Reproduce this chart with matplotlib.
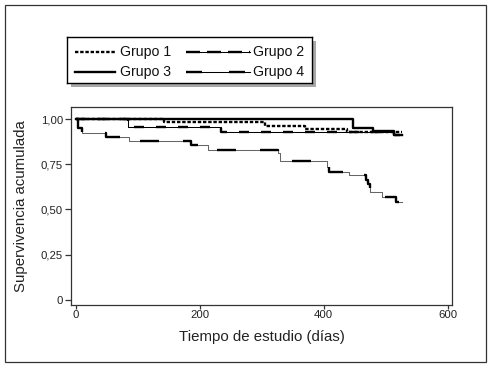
import matplotlib
matplotlib.use("Agg")
import matplotlib.pyplot as plt
from matplotlib.patches import Rectangle
from matplotlib.lines import Line2D

plt.rcParams['font.family'] = ['Liberation Sans', 'DejaVu Sans']
plt.rcParams['lines.scale_dashes'] = False

# Kaplan-Meier step data (days, cumulative survival)
g1_t = [0, 143, 305, 370, 437, 526]
g1_s = [1.00, 0.983, 0.962, 0.946, 0.927, 0.927]
g2_t = [0, 84, 235, 513, 526]
g2_s = [1.00, 0.955, 0.926, 0.910, 0.910]
g3_t = [0, 447, 480, 513, 526]
g3_s = [1.00, 0.953, 0.935, 0.910, 0.910]
g4_t = [0, 3, 10, 49, 86, 186, 213, 327, 330, 406, 409, 441, 469, 471, 475, 494, 517, 526]
g4_s = [1.00, 0.950, 0.924, 0.900, 0.878, 0.855, 0.830, 0.815, 0.768, 0.735,
        0.710, 0.689, 0.665, 0.640, 0.596, 0.568, 0.541, 0.541]

labels = ["Grupo 1", "Grupo 2", "Grupo 3", "Grupo 4"]
yticks = [0, 0.25, 0.5, 0.75, 1.0]
ytick_labels = ["0", "0,25", "0,50", "0,75", "1,00"]
xticks = [0, 200, 400, 600]

W, H = 491, 367
fig = plt.figure(figsize=(W / 100, H / 100), dpi=100)
fig.patch.set_facecolor('white')

px = 0.72  # points per pixel
dash1 = (0, (3.4 * px, 1.8 * px))
dash2 = (0, (10 * px, 12 * px))
dash4 = (0, (19 * px, 24 * px))
thick = 1.7
thin = 0.75

ax = fig.add_axes([71 / W, 1 - 305 / H, (452 - 71) / W, (305 - 107.3) / H])
ax.step(g2_t, g2_s, where='post', color='black', lw=thin)
ax.step(g2_t, g2_s, where='post', color='black', lw=thick, linestyle=dash2)
ax.step(g1_t, g1_s, where='post', color='black', lw=thick, linestyle=dash1)
ax.step(g4_t, g4_s, where='post', color='#666666', lw=thin)
ax.step(g4_t, g4_s, where='post', color='black', lw=thick, linestyle=dash4)
ax.step(g3_t, g3_s, where='post', color='black', lw=thick)

ax.set_xlim(-7.6, 607)
ax.set_ylim(-0.028, 1.065)
ax.set_xticks(xticks)
ax.set_xticklabels([str(v) for v in xticks])
ax.set_yticks(yticks)
ax.set_yticklabels(ytick_labels)
ax.tick_params(axis='both', direction='out', length=4.3, width=0.9, labelsize=8.2,
               color='#333333', labelcolor='#222222')
ax.tick_params(axis='x', length=3.0, pad=0.5)
ax.tick_params(axis='y', pad=1.5)
for sp in ax.spines.values():
    sp.set_linewidth(0.9)
    sp.set_color('#333333')
ax.set_xlabel("Tiempo de estudio (días)", fontsize=10.8, color='#222222', labelpad=7)
ax.set_ylabel("Supervivencia acumulada", fontsize=10.8, color='#222222', labelpad=9)

# Legend box with shadow
lx0, ly0, lw_, lh_ = 67, 37, 245, 46
shadow = Rectangle(((lx0 + 4) / W, 1 - (ly0 + lh_ + 4) / H), lw_ / W, lh_ / H,
                   transform=fig.transFigure, facecolor='#a8a8a8', edgecolor='none', zorder=1)
fig.patches.append(shadow)
lax = fig.add_axes([lx0 / W, 1 - (ly0 + lh_) / H, lw_ / W, lh_ / H], zorder=2)
lax.set_xlim(lx0, lx0 + lw_)
lax.set_ylim(ly0 + lh_, ly0)
lax.set_xticks([])
lax.set_yticks([])
for sp in lax.spines.values():
    sp.set_linewidth(1.0)
    sp.set_color('black')

rows = [51.7, 71.7]
entries = [
    (75, 115, 120, rows[0], 0),
    (186, 250, 253, rows[0], 1),
    (75, 115, 120, rows[1], 2),
    (186, 250, 253, rows[1], 3),
]
for x0, x1, xt, y, i in entries:
    if i == 0:
        lax.add_line(Line2D([x0, x1], [y, y], color='black', lw=thick, linestyle=dash1))
    elif i == 1:
        lax.add_line(Line2D([x0, x1], [y, y], color='black', lw=thin))
        lax.add_line(Line2D([x0, x1], [y, y], color='black', lw=thick,
                            linestyle=(0, (14 * px, 7 * px))))
    elif i == 2:
        lax.add_line(Line2D([x0, x1], [y, y], color='black', lw=thick))
    else:
        lax.add_line(Line2D([x0, x1], [y, y], color='black', lw=thin))
        lax.add_line(Line2D([x0, x1], [y, y], color='black', lw=thick,
                            linestyle=(0, (16 * px, 27 * px))))
    lax.text(xt, y, labels[i], fontsize=10.2, va='center', ha='left', color='#111111')

# Outer frame
fig.patches.append(Rectangle((5 / W, 5 / H), (486 - 5) / W, (362 - 5) / H,
                             transform=fig.transFigure, facecolor='none',
                             edgecolor='#333333', lw=0.9, zorder=0))

fig.savefig("out.png", dpi=100, facecolor='white')
